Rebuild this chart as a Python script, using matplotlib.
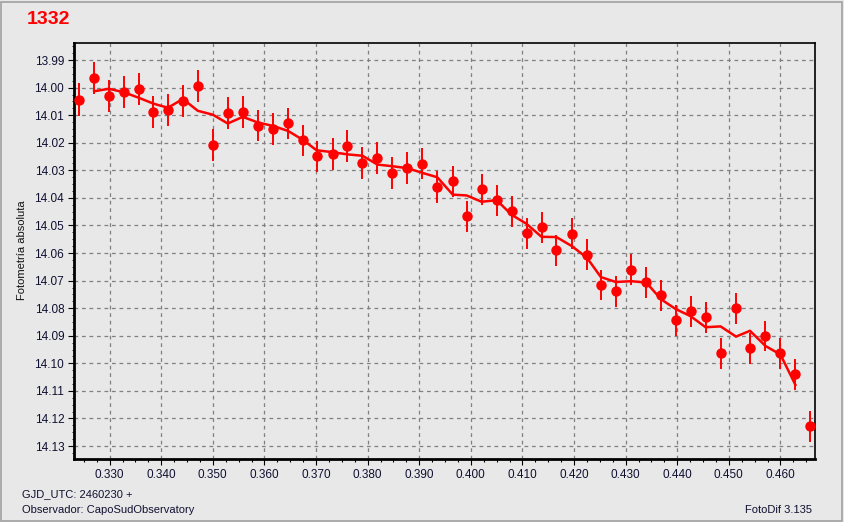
import matplotlib
matplotlib.use("Agg")
import matplotlib.pyplot as plt
from matplotlib.ticker import MultipleLocator, FormatStrFormatter
from matplotlib.patches import Rectangle

plt.rcParams['font.family'] = ['Liberation Sans', 'DejaVu Sans']

# --- data ---
jd = [0.3240, 0.3270, 0.3299, 0.3328, 0.3357, 0.3385, 0.3413, 0.3442, 0.3471, 0.3500,
      0.3529, 0.3558, 0.3587, 0.3617, 0.3646, 0.3675, 0.3701, 0.3732, 0.3761, 0.3790,
      0.3819, 0.3848, 0.3877, 0.3906, 0.3935, 0.3965, 0.3992, 0.4021, 0.4050, 0.4079,
      0.4108, 0.4137, 0.4166, 0.4196, 0.4225, 0.4252, 0.4281, 0.4311, 0.4340, 0.4369,
      0.4397, 0.4426, 0.4455, 0.4484, 0.4514, 0.4541, 0.4571, 0.4600, 0.4629, 0.4658]

mag = [14.0043, 13.9965, 14.0031, 14.0016, 14.0005, 14.0089, 14.0081, 14.0049, 13.9994, 14.0209,
       14.0092, 14.0089, 14.0138, 14.0150, 14.0129, 14.0191, 14.0249, 14.0241, 14.0212, 14.0273,
       14.0255, 14.0309, 14.0291, 14.0276, 14.0360, 14.0339, 14.0466, 14.0368, 14.0408, 14.0448,
       14.0528, 14.0506, 14.0590, 14.0530, 14.0606, 14.0716, 14.0738, 14.0661, 14.0706, 14.0753,
       14.0844, 14.0811, 14.0833, 14.0964, 14.0800, 14.0945, 14.0901, 14.0964, 14.1040, 14.1229]

err = [0.0059, 0.0059, 0.0058, 0.0058, 0.0058, 0.0058, 0.0058, 0.0058, 0.0058, 0.0058,
       0.0057, 0.0057, 0.0057, 0.0057, 0.0057, 0.0057, 0.0057, 0.0057, 0.0057, 0.0057,
       0.0057, 0.0057, 0.0057, 0.0057, 0.0057, 0.0056, 0.0056, 0.0056, 0.0056, 0.0056,
       0.0056, 0.0056, 0.0056, 0.0056, 0.0056, 0.0056, 0.0056, 0.0056, 0.0056, 0.0056,
       0.0056, 0.0056, 0.0056, 0.0056, 0.0056, 0.0056, 0.0056, 0.0056, 0.0056, 0.0056]

trend_jd = jd[1:49]
trend_mag = [14.0013, 14.0004, 14.0017, 14.0037, 14.0058, 14.0073, 14.0041, 14.0084, 14.0098, 14.0130,
             14.0106, 14.0126, 14.0139, 14.0157, 14.0190, 14.0227, 14.0234, 14.0242, 14.0247, 14.0279,
             14.0285, 14.0292, 14.0309, 14.0325, 14.0388, 14.0391, 14.0414, 14.0408, 14.0461, 14.0494,
             14.0541, 14.0542, 14.0575, 14.0617, 14.0687, 14.0705, 14.0702, 14.0707, 14.0768, 14.0803,
             14.0829, 14.0869, 14.0866, 14.0903, 14.0882, 14.0937, 14.0968, 14.1078]

title = "1332"
ylabel = "Fotometría absoluta"
foot_left1 = "GJD_UTC: 2460230 +"
foot_left2 = "Observador: CapoSudObservatory"
foot_right = "FotoDif 3.135"

BG = '#e8e8e9'
RED = '#ff0000'

fig = plt.figure(figsize=(8.44, 5.22), dpi=100, facecolor=BG)
ax = fig.add_axes([74/844, 1-459/522, (815-74)/844, (459-43)/522])
ax.set_facecolor(BG)

ax.errorbar(jd, mag, yerr=err, fmt='o', color=RED, ecolor=RED, elinewidth=1.4,
            markersize=6.5, capsize=0, zorder=3)
ax.plot(trend_jd, trend_mag, color=RED, linewidth=1.8, zorder=4)

ax.set_xlim(0.3231, 0.4667)
ax.set_ylim(14.1347, 13.9838)

ax.xaxis.set_major_locator(MultipleLocator(0.01))
ax.xaxis.set_minor_locator(MultipleLocator(0.0025))
ax.xaxis.set_major_formatter(FormatStrFormatter('%.3f'))
ax.yaxis.set_major_locator(MultipleLocator(0.01))
ax.yaxis.set_minor_locator(MultipleLocator(0.0025))
ax.yaxis.set_major_formatter(FormatStrFormatter('%.2f'))

ax.tick_params(axis='both', which='major', direction='out', length=4, width=0.8,
               labelsize=8.5, colors='#000000', labelcolor='#101030', pad=3)
ax.tick_params(axis='x', which='minor', direction='out', length=2.5, width=0.8)
ax.tick_params(axis='y', which='minor', direction='out', length=1.5, width=0.6)

ax.grid(True, which='major', color='#808080', linestyle=(0, (3, 3)), linewidth=0.9)
ax.set_axisbelow(True)

for side in ['left', 'bottom']:
    ax.spines[side].set_linewidth(2.0)
for side in ['top', 'right']:
    ax.spines[side].set_linewidth(1.2)
for sp in ax.spines.values():
    sp.set_color('black')

fig.text(27/844, 1-19/522, title, color=RED, fontsize=14, fontweight='bold',
         ha='left', va='center')
fig.text(22/844, 1-250/522, ylabel, rotation=90, fontsize=8, ha='center', va='center',
         color='#101010')
fig.text(22/844, 1-494/522, foot_left1, fontsize=8, ha='left', va='center', color='#101030')
fig.text(22/844, 1-510/522, foot_left2, fontsize=8, ha='left', va='center', color='#101030')
fig.text(812/844, 1-510/522, foot_right, fontsize=8, ha='right', va='center', color='#101030')

# outer frame
fig.patches.append(Rectangle((1/844, 1/522), 841/844, 519/522, transform=fig.transFigure,
                             fill=False, edgecolor='#a0a0a0', linewidth=1.2))

fig.savefig('out.png', dpi=100, facecolor=BG)
